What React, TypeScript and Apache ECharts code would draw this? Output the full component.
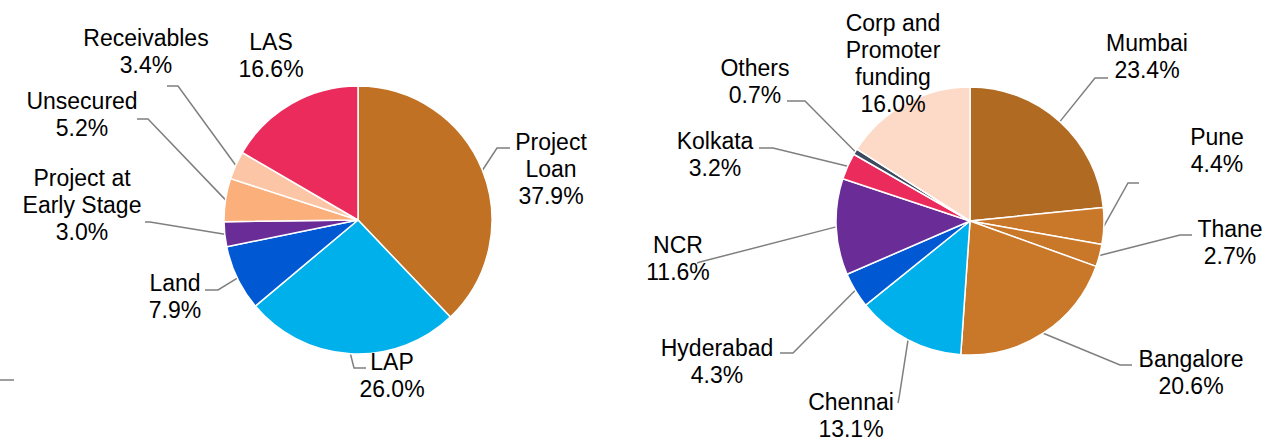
import React, { useEffect, useRef } from 'react';
import * as echarts from 'echarts';

// ---- data ----
const productCategories = ['Project\nLoan', 'LAP', 'Land', 'Project at\nEarly Stage', 'Unsecured', 'Receivables', 'LAS'];
const productShares = [37.9, 26.0, 7.9, 3.0, 5.2, 3.4, 16.6];
const productColors = ['#C07124', '#00B0EB', '#0059D2', '#6A2C97', '#FBB07C', '#FCC6A6', '#EA2B5B'];

const geoCategories = ['Mumbai', 'Pune', 'Thane', 'Bangalore', 'Chennai', 'Hyderabad', 'NCR', 'Kolkata', 'Others', 'Corp and\nPromoter\nfunding'];
const geoShares = [23.4, 4.4, 2.7, 20.6, 13.1, 4.3, 11.6, 3.2, 0.7, 16.0];
const geoColors = ['#B06A22', '#C97728', '#C97728', '#C97728', '#00B0EA', '#0059D2', '#6A2C97', '#EA2B5B', '#3C4A60', '#FDDAC7'];

// ---- layout (label placement and leader-line elbows) ----
const productCenter = [358, 220];
const geoCenter = [970, 221];
const pieRadius = 134;

const productLabelAt = [[551, 169], [392, 375], [175, 296], [82, 205], [82, 114], [146, 51], [271, 55]];
const productGuide: (number[][] | null)[] = [
  [[497, 148], [510, 148]],
  [[354, 368], [366, 368]],
  [[218, 290], [205, 290]],
  [[150, 222], [145, 222]],
  [[148, 119], [137, 119]],
  [[178, 86], [167, 86]],
  null,
];
const geoLabelAt = [[1147, 56], [1217, 150], [1230, 242], [1191, 372], [851, 415], [717, 361], [678, 258], [715, 154], [755, 81], [893, 63]];
const geoGuide: (number[][] | null)[] = [
  [[1095, 78], [1108, 78]],
  [[1128, 183], [1139, 183]],
  [[1180, 235], [1192, 235]],
  [[1120, 365], [1132, 365]],
  [[899, 398], [898, 403]],
  [[793, 353], [780, 353]],
  [[700, 262], [697, 263]],
  [[773, 148], [759, 148]],
  [[805, 101], [787, 101]],
  null,
];

const FONT = '"Liberation Sans", Arial, Helvetica, sans-serif';

function anchorOf(values: number[], idx: number, center: number[], r: number) {
  const total = values.reduce((a, b) => a + b, 0);
  let before = 0;
  for (let i = 0; i < idx; i++) before += values[i];
  const mid = ((before + values[idx] / 2) / total) * Math.PI * 2;
  return [center[0] + r * Math.sin(mid), center[1] - r * Math.cos(mid)];
}

function buildSeries(
  names: string[],
  values: number[],
  colors: string[],
  center: number[],
  labelAt: number[][],
  guide: (number[][] | null)[]
) {
  return {
    type: 'pie',
    center,
    radius: pieRadius,
    startAngle: 90,
    clockwise: true,
    avoidLabelOverlap: false,
    animation: false,
    silent: true,
    itemStyle: { borderColor: '#ffffff', borderWidth: 1.5 },
    label: {
      show: true,
      position: 'outside',
      color: '#000000',
      fontFamily: FONT,
      fontSize: 23,
      lineHeight: 27,
      align: 'center',
      formatter: (p: any) => `${p.name}\n${Number(p.value).toFixed(1)}%`,
    },
    labelLine: {
      show: true,
      length: 10,
      length2: 10,
      smooth: false,
      lineStyle: { color: '#7F7F7F', width: 1.5 },
    },
    labelLayout: (params: any) => {
      const i = params.dataIndex;
      const pos = labelAt[i];
      const g = guide[i];
      const out: any = { x: pos[0], y: pos[1], align: 'center', verticalAlign: 'middle' };
      if (g) {
        const start =
          params.labelLinePoints && params.labelLinePoints[0]
            ? params.labelLinePoints[0]
            : anchorOf(values, i, center, pieRadius);
        out.labelLinePoints = [start, g[0], g[1]];
      }
      return out;
    },
    data: names.map((n, i) => ({
      name: n,
      value: values[i],
      itemStyle: { color: colors[i] },
      labelLine: { show: !!guide[i] },
    })),
  };
}

export default function App() {
  const ref = useRef<HTMLDivElement>(null);
  useEffect(() => {
    document.body.style.margin = '0';
    if (!ref.current) return;
    const chart = echarts.init(ref.current, undefined, { renderer: 'svg' });
    chart.setOption({
      animation: false,
      backgroundColor: '#ffffff',
      series: [
        buildSeries(productCategories, productShares, productColors, productCenter, productLabelAt, productGuide),
        buildSeries(geoCategories, geoShares, geoColors, geoCenter, geoLabelAt, geoGuide),
      ],
      graphic: [
        {
          type: 'line',
          shape: { x1: 0, y1: 380, x2: 14, y2: 380 },
          style: { stroke: '#7F7F7F', lineWidth: 1.5 },
        },
      ],
    });
    return () => chart.dispose();
  }, []);
  return <div ref={ref} style={{ width: 1286, height: 442 }} />;
}
